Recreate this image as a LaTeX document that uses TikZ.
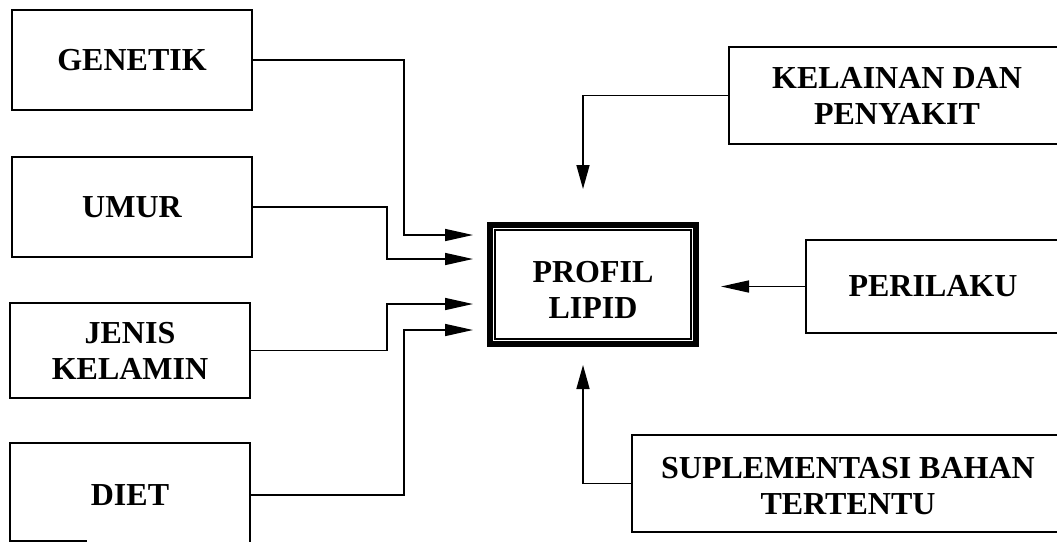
\documentclass[tikz,border=0pt]{standalone}
\usepackage{fontspec}
\setmainfont{Liberation Serif}
\usetikzlibrary{arrows.meta}
\tikzset{
  boxnode/.style={draw, line width=2.4pt, inner sep=0pt, outer sep=0pt, align=center,
    font=\fontsize{32}{36}\selectfont\bfseries},
  conn/.style={line width=1.6pt, -{Triangle[length=28pt,width=12pt]}},
  vconn/.style={line width=1.6pt, -{Triangle[length=24pt,width=13pt]}},
  plainline/.style={line width=2.4pt}
}
\newcommand{\twoline}[3]{\raisebox{#1}[\height][\depth]{\begin{tabular}{@{}c@{}}#2\\#3\end{tabular}}}
\begin{document}
\begin{tikzpicture}[x=1pt,y=-1pt]
\useasboundingbox (0,0) rectangle (1057,541);
% left boxes
\node[boxnode, minimum width=240pt, minimum height=100pt] (gen) at (132,60) {GENETIK};
\node[boxnode, minimum width=240pt, minimum height=100pt] (umur) at (132,207) {UMUR};
\node[boxnode, minimum width=240pt, minimum height=95pt] (jenis) at (130,350.5) {JENIS\\KELAMIN};
\node[boxnode, minimum width=240pt, minimum height=104pt] (diet) at (130,495) {DIET};
\draw[plainline] (diet.south west) ++(0,-6) coordinate (dbl) -- ++(77,0) coordinate (dbr);
% centre box
\node[boxnode, line width=6pt, minimum width=206pt, minimum height=119pt] (prof) at (593,284.5)
  {\twoline{-9pt}{PROFIL}{LIPID}};
\draw[line width=1.5pt] ([xshift=5pt,yshift=-5pt]prof.north west) rectangle ([xshift=-5pt,yshift=5pt]prof.south east);
% right boxes
\node[boxnode, minimum width=336pt, minimum height=97pt] (kel) at (897,95.5) {KELAINAN DAN\\PENYAKIT};
\node[boxnode, minimum width=254pt, minimum height=93pt] (peri) at (933,286.5) {PERILAKU};
\node[boxnode, minimum width=432pt, minimum height=97pt] (supl) at (848,483.5)
  {\twoline{-6pt}{SUPLEMENTASI BAHAN}{TERTENTU}};
% arrow tips
\coordinate (t1) at (473,235);
\coordinate (t2) at (473,259);
\coordinate (t3) at (473,304);
\coordinate (t4) at (473,330);
\coordinate (t5) at (583,189);
\coordinate (t6) at (721,286.5);
\coordinate (t7) at (583,365);
% connectors
\draw[conn] (gen.east) -| (404,235) -- (t1);
\draw[conn] (umur.east) -| (387,259) -- (t2);
\draw[conn] (jenis.east) -| (387,304) -- (t3);
\draw[conn] (diet.east) -| (404,330) -- (t4);
\draw[vconn] (kel.west) -| (t5);
\draw[conn] (peri.west) -- (t6);
\draw[vconn] (supl.west) -| (t7);
\end{tikzpicture}
\end{document}
